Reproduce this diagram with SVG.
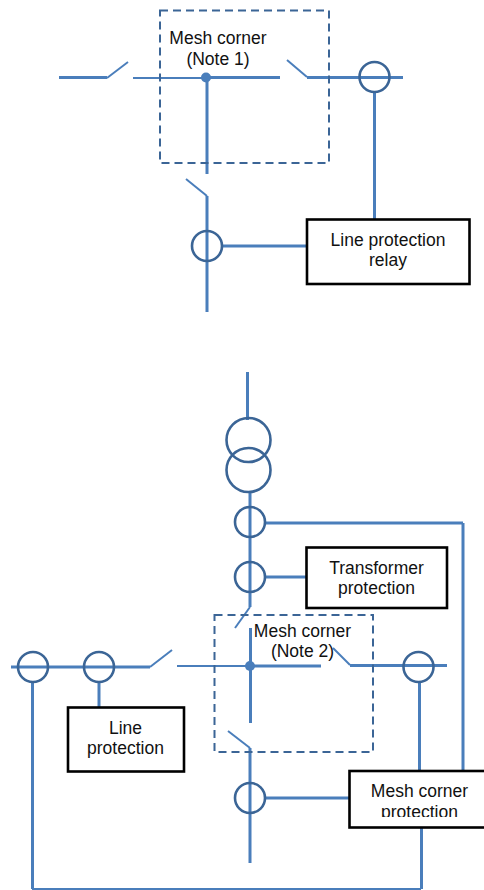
<svg xmlns="http://www.w3.org/2000/svg" width="484" height="890" viewBox="0 0 484 890">
<style>
.l{fill:none;stroke:#4a7ebb;stroke-width:3}
.t{fill:none;stroke:#4a7ebb;stroke-width:2}
.c{fill:none;stroke:#3b6596;stroke-width:2.6}
.d{fill:none;stroke:#3b6596;stroke-width:2;stroke-dasharray:8 5}
.b{fill:#fff;stroke:#000;stroke-width:2.6}
.p{fill:#4a7ebb}
text{font-family:"Liberation Sans",Arial,sans-serif;font-size:17.500px;fill:#111;text-anchor:middle}
</style>
<defs><clipPath id="clip"><rect x="350" y="772" width="134" height="45"/></clipPath></defs>
<g id="connectors">
<path class="l" d="M59 77.500H107"/>
<path class="t" d="M107 78L128 62"/>
<path class="t" d="M133 78H206"/>
<path class="l" d="M206 77.500H280M207 78V174"/>
<path class="t" d="M287 60L307 77"/>
<path class="l" d="M307 77.500H403M374.500 92V219"/>
<path class="t" d="M186 179L207 196"/>
<path class="l" d="M207 196V312M222 246H307"/>
<path class="l" d="M247.500 372V420M250 492V607"/>
<path class="t" d="M250 607L235 628"/>
<path class="l" d="M265 523H463M463 523V771M265 577H306"/>
<path class="l" d="M250.500 628V723"/>
<path class="l" d="M11 667H150"/>
<path class="t" d="M150 667L172 650"/>
<path class="t" d="M177 666H250"/>
<path class="l" d="M250 666H321"/>
<path class="t" d="M333 648L350 665"/>
<path class="l" d="M350 665.500H447M419.500 682V771"/>
<path class="l" d="M99 682V707"/>
<path class="t" d="M228 731L250 748"/>
<path class="l" d="M250 748V863M265 798H349"/>
<path class="l" d="M32.500 682V889"/>
<path class="t" d="M32 889H421"/>
<path class="l" d="M421.500 827V889"/>
</g>
<g id="mesh-corner-1">
<rect class="d" x="160" y="10.500" width="169" height="152.500"/>
<circle class="p" cx="206" cy="77.500" r="5"/>
<text x="218" y="44">Mesh corner</text>
<text x="218" y="65">(Note 1)</text>
</g>
<g id="ct-1"><circle class="c" cx="374.500" cy="77" r="15"/></g>
<g id="ct-2"><circle class="c" cx="207" cy="246" r="15"/></g>
<g id="line-protection-relay">
<rect class="b" x="307" y="219.500" width="162.500" height="64.500"/>
<text x="388" y="246">Line protection</text>
<text x="388" y="266">relay</text>
</g>
<g id="transformer">
<circle class="c" cx="248.500" cy="440" r="22"/>
<circle class="c" cx="248.500" cy="470" r="22"/>
</g>
<g id="ct-3"><circle class="c" cx="250" cy="522" r="15"/></g>
<g id="ct-4"><circle class="c" cx="250" cy="577" r="15"/></g>
<g id="transformer-protection">
<rect class="b" x="306.500" y="547.500" width="140.500" height="60.500"/>
<text x="376.500" y="574">Transformer</text>
<text x="376.500" y="594">protection</text>
</g>
<g id="mesh-corner-2">
<rect class="d" x="214.500" y="615" width="158.500" height="137"/>
<circle class="p" cx="250" cy="666" r="5"/>
<text x="302.500" y="637">Mesh corner</text>
<text x="302.500" y="657">(Note 2)</text>
</g>
<g id="ct-5"><circle class="c" cx="33" cy="667" r="15"/></g>
<g id="ct-6"><circle class="c" cx="99" cy="667" r="15"/></g>
<g id="ct-7"><circle class="c" cx="418.500" cy="667" r="15"/></g>
<g id="ct-8"><circle class="c" cx="250" cy="798" r="15"/></g>
<g id="line-protection">
<rect class="b" x="68" y="707.500" width="116" height="64"/>
<text x="125.500" y="734">Line</text>
<text x="125.500" y="754">protection</text>
</g>
<g id="mesh-corner-protection">
<rect class="b" x="349.500" y="771" width="140" height="56.500"/>
<text x="419.500" y="797">Mesh corner</text>
<text x="419.500" y="818" clip-path="url(#clip)">protection</text>
</g>
</svg>
